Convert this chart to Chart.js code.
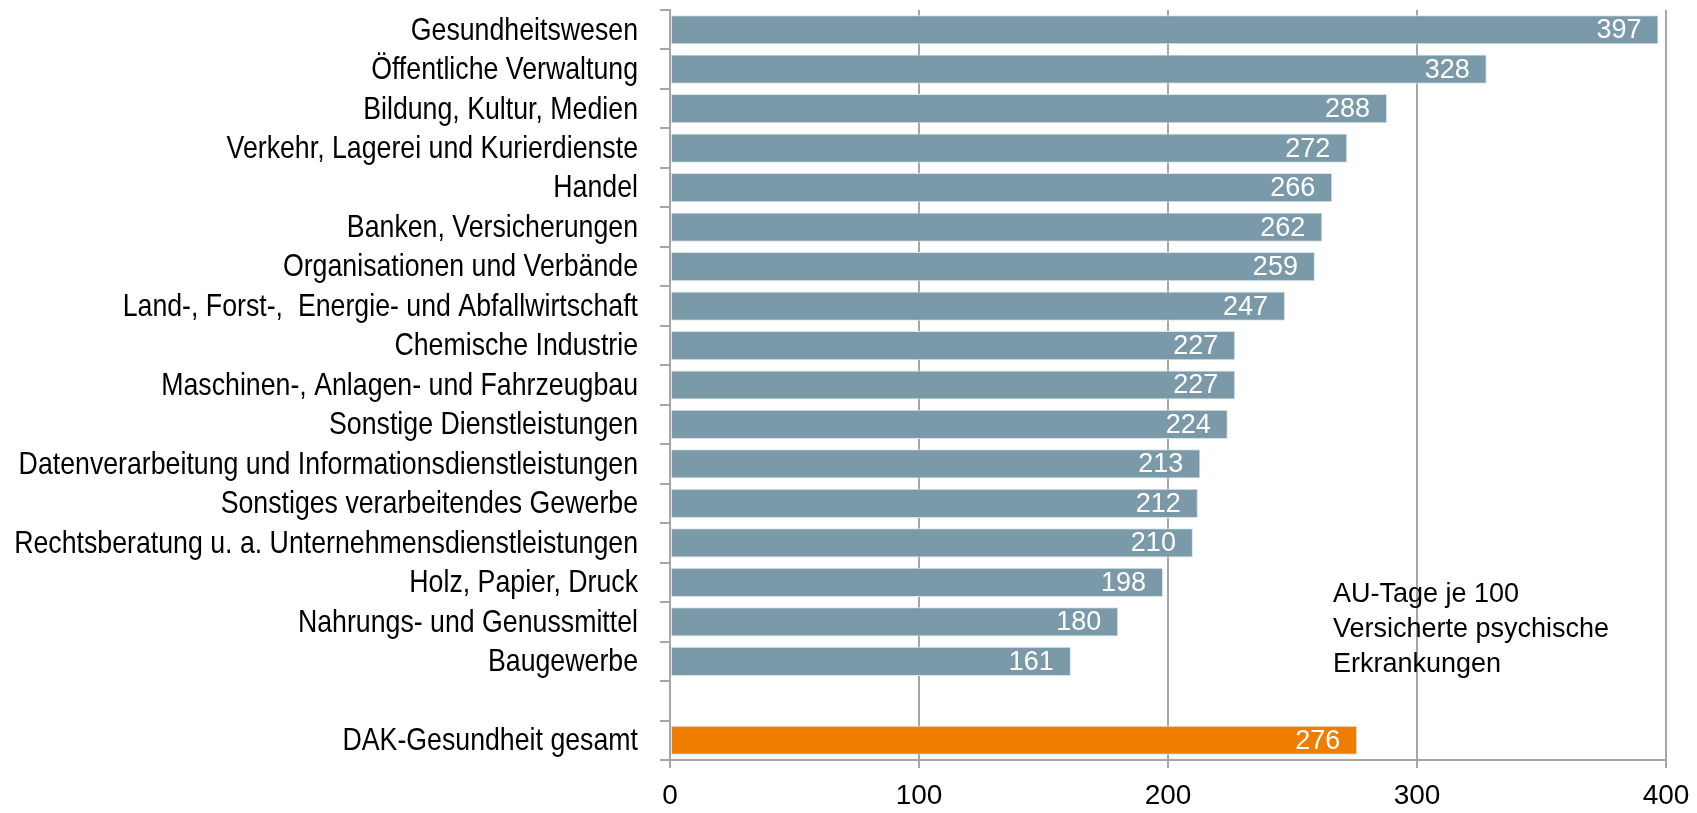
<!DOCTYPE html>
<html>
<head>
<meta charset="utf-8">
<script src="https://cdn.jsdelivr.net/npm/chart.js@4/dist/chart.umd.min.js"></script>
<style>
  html, body { margin: 0; padding: 0; background: #ffffff; }
  #wrap { position: relative; width: 1697px; height: 813px; }
  #note { position: absolute; left: 1333px; top: 576px; font-family: "Liberation Sans", Arial, sans-serif; font-size: 27px; line-height: 35px; color: #000; }
</style>
</head>
<body>
<div id="wrap">
  <canvas id="c" width="1697" height="813"></canvas>
  <div id="note">AU-Tage je 100<br>Versicherte psychische<br>Erkrankungen</div>
</div>
<script>
const categories = [
  "Gesundheitswesen",
  "Öffentliche Verwaltung",
  "Bildung, Kultur, Medien",
  "Verkehr, Lagerei und Kurierdienste",
  "Handel",
  "Banken, Versicherungen",
  "Organisationen und Verbände",
  "Land-, Forst-,  Energie- und Abfallwirtschaft",
  "Chemische Industrie",
  "Maschinen-, Anlagen- und Fahrzeugbau",
  "Sonstige Dienstleistungen",
  "Datenverarbeitung und Informationsdienstleistungen",
  "Sonstiges verarbeitendes Gewerbe",
  "Rechtsberatung u. a. Unternehmensdienstleistungen",
  "Holz, Papier, Druck",
  "Nahrungs- und Genussmittel",
  "Baugewerbe",
  "",
  "DAK-Gesundheit gesamt"
];
const values = [397, 328, 288, 272, 266, 262, 259, 247, 227, 227, 224, 213, 212, 210, 198, 180, 161, null, 276];
const totalLabel = "DAK-Gesundheit gesamt";
const xTicks = [0, 100, 200, 300, 400];

const GRAY_BAR = "#7A99A9";
const ORANGE = "#EF7D00";
const FONT = '"Liberation Sans", Arial, sans-serif';
const Y_TICK_LEN = 10;
const Y_LABEL_GAP = 22;
const Y_LABEL_SQUEEZE = 0.835;

const barColors = categories.map(c => c === totalLabel ? ORANGE : GRAY_BAR);

const valueLabels = {
  id: "valueLabels",
  afterDatasetsDraw(chart) {
    const ctx = chart.ctx;
    const meta = chart.getDatasetMeta(0);
    ctx.save();
    ctx.font = "27px " + FONT;
    ctx.fillStyle = "#ffffff";
    ctx.textAlign = "right";
    ctx.textBaseline = "middle";
    meta.data.forEach((el, i) => {
      const v = values[i];
      if (v === null || v === undefined) return;
      ctx.fillText(String(v), el.x - 17, el.y + 1);
    });
    ctx.restore();
  }
};

// condensed category labels (the source uses a narrow face)
const narrowYLabels = {
  id: "narrowYLabels",
  afterDraw(chart) {
    const ctx = chart.ctx;
    const ys = chart.scales.y;
    const xRight = ys.right - Y_TICK_LEN - Y_LABEL_GAP;
    ctx.save();
    ctx.font = "32px " + FONT;
    ctx.fillStyle = "#000000";
    ctx.textAlign = "right";
    ctx.textBaseline = "middle";
    categories.forEach((lab, i) => {
      if (!lab) return;
      const y = ys.getPixelForValue(i);
      ctx.save();
      ctx.translate(xRight, y);
      ctx.scale(Y_LABEL_SQUEEZE, 1);
      ctx.fillText(lab, 0, 1);
      ctx.restore();
    });
    ctx.restore();
  }
};

new Chart(document.getElementById("c"), {
  type: "bar",
  data: {
    labels: categories,
    datasets: [{
      data: values,
      backgroundColor: barColors,
      borderColor: "#DCE4E8",
      borderWidth: 1,
      borderSkipped: false,
      barPercentage: 0.74,
      categoryPercentage: 1.0
    }]
  },
  options: {
    indexAxis: "y",
    responsive: false,
    animation: false,
    maintainAspectRatio: false,
    layout: { padding: { top: 10, right: 31, left: 0, bottom: 0 } },
    plugins: {
      legend: { display: false },
      tooltip: { enabled: false }
    },
    scales: {
      x: {
        min: 0,
        max: 400,
        afterBuildTicks(scale) { scale.ticks = xTicks.map(v => ({ value: v })); },
        afterFit(scale) { scale.height = 53; scale.paddingLeft = 0; scale.paddingRight = 0; },
        grid: {
          color: "#A6A6A6",
          lineWidth: 2,
          drawTicks: true,
          tickLength: 8,
          tickColor: "#A6A6A6"
        },
        border: { display: true, color: "#A6A6A6", width: 2 },
        ticks: {
          color: "#000000",
          font: { family: FONT, size: 28 },
          padding: 11,
          maxRotation: 0
        }
      },
      y: {
        afterFit(scale) { scale.width = 670; scale.paddingTop = 0; scale.paddingBottom = 0; },
        grid: {
          offset: true,
          drawOnChartArea: false,
          drawTicks: true,
          tickLength: Y_TICK_LEN,
          color: "#A6A6A6",
          lineWidth: 2
        },
        border: { display: true, color: "#A6A6A6", width: 2 },
        ticks: {
          display: false,
          autoSkip: false
        }
      }
    }
  },
  plugins: [valueLabels, narrowYLabels]
});
</script>
</body>
</html>
